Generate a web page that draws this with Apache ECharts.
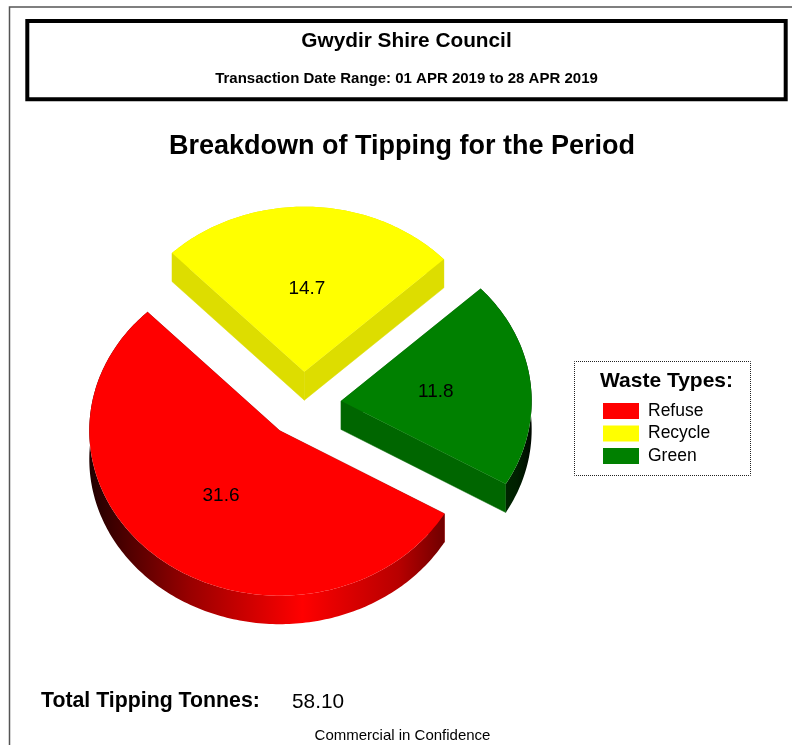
<!DOCTYPE html>
<html>
<head>
<meta charset="utf-8">
<style>
  html, body { margin: 0; padding: 0; background: #fff; }
  #chart { width: 792px; height: 745px; }
</style>
</head>
<body>
<div id="chart"></div>
<script src="https://cdn.jsdelivr.net/npm/echarts@6/dist/echarts.min.js"></script>
<script>
const categories = ['Refuse', 'Recycle', 'Green']
const tonnes = [31.6, 14.7, 11.8]
const totalLabel = '58.10'

const FONT = '"Liberation Sans", Arial, sans-serif'

// look of each slice, same order as categories
const topColors = ['#ff0000', '#ffff00', '#008000']
const cutColors = ['#a00000', '#dddd00', '#006600']
const sideStops = [
  [[0, '#200000'], [0.11, '#500000'], [0.28, '#980000'], [0.6, '#ff0000'], [0.68, '#e80000'], [0.87, '#b80000'], [1, '#700000']],
  [[0, '#dddd00'], [1, '#dddd00']],
  [[0, '#003000'], [0.7, '#002000'], [1, '#000800']]
]

// tilted pie
const pie = { cx: 303.3, cy: 404.7, rx: 190.5, ry: 165, depth: 28.5, explode: 0.2, startDeg: -30.2 }

const sum = tonnes.reduce((a, b) => a + b, 0)

function spanOf (index) {
  let a = pie.startDeg
  for (let i = 0; i < index; i++) {
    a -= tonnes[i] / sum * 360
  }
  return [a, a - tonnes[index] / sum * 360]
}

function onRim (ox, oy, deg, scale) {
  const r = deg * Math.PI / 180
  return [ox + pie.rx * scale * Math.cos(r), oy - pie.ry * scale * Math.sin(r)]
}

function renderSlice (params, api) {
  const i = params.seriesIndex
  const value = api.value(0)
  const [a0, a1] = spanOf(i)
  const mid = (a0 + a1) / 2
  const [ox, oy] = onRim(pie.cx, pie.cy, mid, pie.explode)

  const arc = []
  const steps = Math.ceil(a0 - a1)
  for (let s = 0; s <= steps; s++) {
    arc.push(onRim(ox, oy, a0 + (a1 - a0) * s / steps, 1))
  }
  const down = p => [p[0], p[1] + pie.depth]
  const xs = arc.map(p => p[0])
  const side = new echarts.graphic.LinearGradient(
    Math.min(...xs), 0, Math.max(...xs), 0,
    sideStops[i].map(s => ({ offset: s[0], color: s[1] })), true)

  const first = arc[0]
  const last = arc[arc.length - 1]
  const apex = [ox, oy]
  const cut = p => ({
    type: 'polygon',
    shape: { points: [apex, p, down(p), down(apex)] },
    style: { fill: cutColors[i], stroke: cutColors[i], lineWidth: 0.5 }
  })
  const labelAt = onRim(ox, oy, mid, 0.5)

  return {
    type: 'group',
    children: [
      cut(first),
      cut(last),
      {
        type: 'polygon',
        shape: { points: arc.concat(arc.map(down).reverse()) },
        style: { fill: side }
      },
      {
        type: 'polygon',
        shape: { points: [apex].concat(arc) },
        style: { fill: topColors[i] }
      },
      {
        type: 'text',
        x: labelAt[0],
        y: labelAt[1],
        style: {
          text: String(value),
          fill: '#000',
          font: '19px ' + FONT,
          align: 'center',
          verticalAlign: 'middle'
        }
      }
    ]
  }
}

function textEl (text, x, y, size, bold, align) {
  return {
    type: 'text',
    x: x,
    y: y,
    style: {
      text: text,
      fill: '#000',
      font: (bold ? 'bold ' : '') + size + 'px ' + FONT,
      align: align || 'left',
      verticalAlign: 'middle'
    }
  }
}

const chart = echarts.init(document.getElementById('chart'), null, { renderer: 'canvas' })
chart.setOption({
  animation: false,
  backgroundColor: '#fff',
  legend: {
    data: categories,
    orient: 'vertical',
    left: 603,
    top: 402,
    padding: 0,
    itemWidth: 36,
    itemHeight: 16,
    itemGap: 4.5,
    icon: 'rect',
    selectedMode: false,
    textStyle: { fontFamily: FONT, fontSize: 17.5, lineHeight: 16, color: '#000', padding: [0, 0, 0, 4] }
  },
  graphic: { elements: [
    // page edge
    { type: 'polyline', shape: { points: [[9.5, 745], [9.5, 7], [792, 7]] }, style: { fill: null, stroke: '#555', lineWidth: 1.5 } },
    // header box
    { type: 'rect', shape: { x: 27.3, y: 21, width: 758.4, height: 78.3 }, style: { fill: null, stroke: '#000', lineWidth: 4 } },
    textEl('Gwydir Shire Council', 406.5, 41, 20.8, true, 'center'),
    textEl('Transaction Date Range: 01 APR 2019 to 28 APR 2019', 406.5, 79, 15, true, 'center'),
    textEl('Breakdown of Tipping for the Period', 402, 147, 27, true, 'center'),
    // legend frame
    { type: 'rect', shape: { x: 574.5, y: 361.5, width: 176, height: 114 }, style: { fill: null, stroke: '#222', lineWidth: 1, lineDash: [1, 1], lineDashOffset: 0.5 } },
    textEl('Waste Types:', 666.5, 381, 21, true, 'center'),
    textEl('Total Tipping Tonnes:', 41, 701, 21.3, true),
    textEl(totalLabel, 292, 702, 20.8, false),
    textEl('Commercial in Confidence', 402.5, 736, 15, false, 'center')
  ] },
  series: categories.map((name, i) => ({
    type: 'custom',
    name: name,
    coordinateSystem: 'none',
    itemStyle: { color: topColors[i] },
    data: [[tonnes[i]]],
    renderItem: renderSlice
  }))
})
</script>
</body>
</html>
